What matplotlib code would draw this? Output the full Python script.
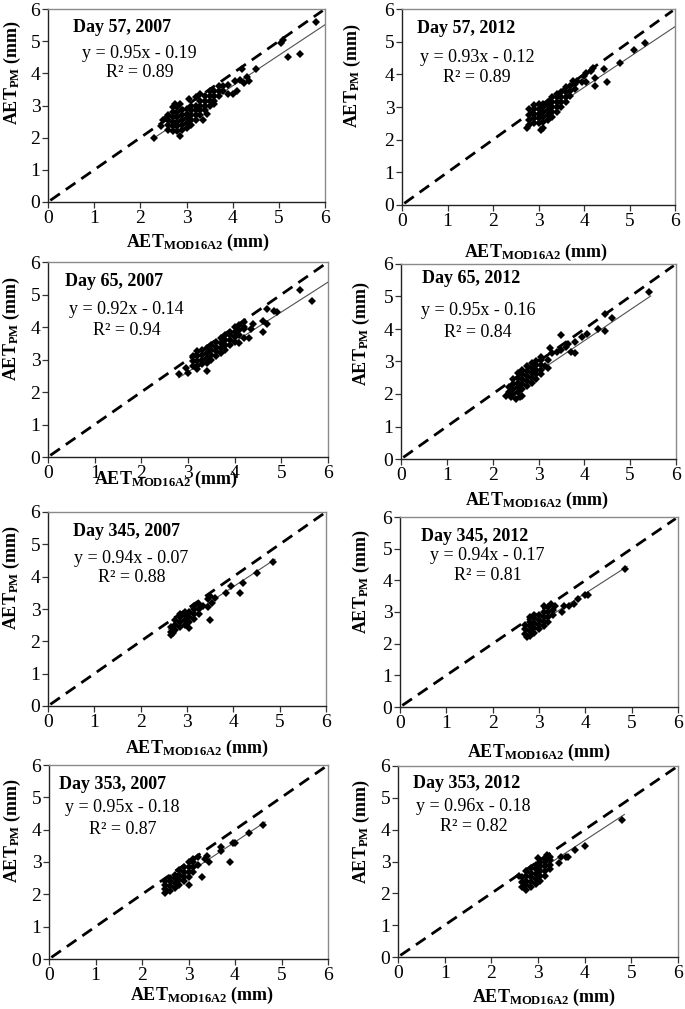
import matplotlib
matplotlib.use("Agg")
import matplotlib.pyplot as plt

plt.rcParams['font.family'] = ['Liberation Serif', 'DejaVu Serif']
plt.rcParams['mathtext.fontset'] = 'custom'
plt.rcParams['mathtext.rm'] = 'Liberation Serif'
plt.rcParams['mathtext.bf'] = 'Liberation Serif:bold'
plt.rcParams['mathtext.it'] = 'Liberation Serif:italic'

# ---------------- data ----------------
titles = ["Day 57, 2007", "Day 57, 2012", "Day 65, 2007", "Day 65, 2012",
          "Day 345, 2007", "Day 345, 2012", "Day 353, 2007", "Day 353, 2012"]
slopes = [0.95, 0.93, 0.92, 0.95, 0.94, 0.94, 0.95, 0.96]
intercepts = [-0.19, -0.12, -0.14, -0.16, -0.07, -0.17, -0.18, -0.18]
r2_values = [0.89, 0.89, 0.94, 0.84, 0.88, 0.81, 0.87, 0.82]
fit_x_start = [2.3, 2.75, 2.8, 2.3, 2.6, 2.65, 2.45, 2.6]
fit_x_end = [6.0, 6.0, 6.0, 5.45, 4.9, 4.9, 4.65, 4.85]
one_to_one = [0.05, 5.95]
axis_ticks = [0, 1, 2, 3, 4, 5, 6]

x_d57_2007 = [2.6, 2.6, 2.6, 2.6, 2.7, 2.7, 2.7, 2.7, 2.7, 2.8, 2.8, 2.8, 2.8, 2.8, 2.8,
              2.9, 2.9, 2.9, 2.9, 2.9, 3.0, 3.0, 3.0, 3.0, 3.0, 3.1, 3.1, 3.1, 3.1, 3.1,
              3.2, 3.2, 3.2, 3.2, 3.3, 3.3, 3.3, 3.3, 3.4, 3.4, 3.4, 3.4, 3.5, 3.5, 3.5, 3.5,
              3.6, 3.6, 3.6, 3.7, 3.7, 3.7, 3.8, 3.8,
              2.3, 2.45, 2.5, 2.55, 2.7, 2.75, 2.85, 2.85, 3.05, 3.2, 3.3, 3.35, 3.6, 3.9,
              4.0, 4.1, 4.05, 4.15, 4.25, 4.3, 4.35, 4.2, 4.5, 5.05, 5.1, 5.2, 5.45, 5.8,
              3.9, 3.45]
y_d57_2007 = [2.25, 2.4, 2.55, 2.7, 2.2, 2.35, 2.5, 2.65, 2.8, 2.2, 2.35, 2.5, 2.65, 2.8, 2.95,
              2.25, 2.4, 2.55, 2.7, 2.85, 2.3, 2.45, 2.6, 2.75, 2.9, 2.4, 2.55, 2.7, 2.85, 3.0,
              2.55, 2.7, 2.85, 3.0, 2.7, 2.85, 3.0, 3.15, 2.85, 3.0, 3.15, 3.3, 3.0, 3.15, 3.3, 3.45,
              3.15, 3.3, 3.45, 3.3, 3.45, 3.6, 3.45, 3.6,
              2.0, 2.35, 2.55, 2.6, 2.95, 3.05, 2.05, 3.05, 3.2, 3.25, 3.35, 2.55, 3.05, 3.35,
              3.35, 3.45, 3.75, 3.8, 3.7, 3.9, 3.75, 4.15, 4.15, 4.95, 5.05, 4.5, 4.6, 5.6,
              3.65, 2.75]

x_d57_2012 = [2.8, 2.8, 2.8, 2.9, 2.9, 2.9, 2.9, 3.0, 3.0, 3.0, 3.0, 3.0,
              3.1, 3.1, 3.1, 3.1, 3.1, 3.2, 3.2, 3.2, 3.2, 3.2, 3.3, 3.3, 3.3, 3.3, 3.3,
              3.4, 3.4, 3.4, 3.4, 3.4, 3.5, 3.5, 3.5, 3.5, 3.6, 3.6, 3.6, 3.6,
              3.7, 3.7, 3.7, 3.8, 3.8,
              2.75, 2.8, 3.05, 3.1, 2.9, 3.85, 3.95, 4.05, 4.05, 4.15, 4.2, 4.25, 4.25,
              4.45, 4.5, 4.8, 5.1, 5.35, 3.75, 4.0]
y_d57_2012 = [2.45, 2.6, 2.75, 2.5, 2.65, 2.8, 2.95, 2.5, 2.65, 2.8, 2.95, 3.1,
              2.55, 2.7, 2.85, 3.0, 3.1, 2.6, 2.75, 2.9, 3.05, 3.15, 2.7, 2.85, 3.0, 3.15, 3.3,
              2.85, 3.0, 3.15, 3.3, 3.4, 3.0, 3.15, 3.3, 3.45, 3.15, 3.3, 3.45, 3.6,
              3.35, 3.5, 3.65, 3.55, 3.7,
              2.35, 2.95, 2.3, 2.35, 3.05, 3.8, 3.75, 3.75, 4.05, 4.1, 4.2, 3.9, 3.65,
              4.15, 3.75, 4.35, 4.75, 4.95, 3.8, 3.95]

x_d65_2007 = [3.1, 3.1, 3.1, 3.2, 3.2, 3.2, 3.2, 3.3, 3.3, 3.3, 3.3, 3.4, 3.4, 3.4, 3.4,
              3.5, 3.5, 3.5, 3.5, 3.6, 3.6, 3.6, 3.6, 3.7, 3.7, 3.7, 3.7, 3.8, 3.8, 3.8, 3.8,
              3.9, 3.9, 3.9, 3.9, 4.0, 4.0, 4.0, 4.0, 4.1, 4.1, 4.1, 4.2, 4.2,
              2.8, 2.95, 3.0, 3.2, 3.4, 4.2, 4.3, 4.35, 4.4, 4.6, 4.6, 4.7, 4.7, 4.85,
              4.9, 5.4, 5.65, 4.1, 4.2]
y_d65_2007 = [2.8, 2.95, 3.1, 2.8, 2.95, 3.1, 3.25, 2.85, 3.0, 3.15, 3.3, 2.9, 3.05, 3.2, 3.35,
              3.0, 3.15, 3.3, 3.45, 3.1, 3.25, 3.4, 3.55, 3.2, 3.35, 3.5, 3.65, 3.3, 3.45, 3.6, 3.75,
              3.45, 3.6, 3.75, 3.85, 3.55, 3.7, 3.85, 4.0, 3.75, 3.9, 4.05, 3.95, 4.15,
              2.55, 2.75, 2.6, 2.7, 2.65, 3.65, 3.65, 3.95, 4.1, 3.85, 4.2, 4.1, 4.55, 4.5,
              4.45, 5.15, 4.8, 3.5, 4.0]

x_d65_2012 = [2.35, 2.35, 2.45, 2.45, 2.45, 2.45, 2.55, 2.55, 2.55, 2.55, 2.55,
              2.65, 2.65, 2.65, 2.65, 2.65, 2.75, 2.75, 2.75, 2.75, 2.75,
              2.85, 2.85, 2.85, 2.85, 2.85, 2.95, 2.95, 2.95, 2.95, 2.95, 3.05, 3.05, 3.05, 3.05,
              2.3, 2.4, 2.5, 2.6, 2.65, 3.05, 3.2, 3.25, 3.3, 3.4, 3.5, 3.5, 3.6, 3.65,
              3.7, 3.8, 3.8, 3.95, 4.05, 4.3, 4.45, 4.45, 4.6, 5.4, 3.15, 3.2]
y_d65_2012 = [2.05, 2.2, 2.0, 2.15, 2.3, 2.45, 2.05, 2.2, 2.35, 2.5, 2.65,
              2.15, 2.3, 2.45, 2.6, 2.75, 2.25, 2.4, 2.55, 2.7, 2.85,
              2.35, 2.5, 2.65, 2.8, 2.95, 2.45, 2.6, 2.75, 2.9, 3.0, 2.6, 2.75, 2.9, 3.05,
              1.95, 1.9, 1.85, 1.9, 1.95, 3.15, 3.05, 3.4, 3.25, 3.3, 3.8, 3.35, 3.45, 3.55,
              3.3, 3.25, 3.6, 3.75, 3.85, 4.0, 3.95, 4.45, 4.35, 5.15, 2.85, 2.8]

x_d345_2007 = [2.65, 2.65, 2.75, 2.75, 2.75, 2.85, 2.85, 2.85, 2.85, 2.95, 2.95, 2.95, 2.95,
               3.05, 3.05, 3.05, 3.15, 3.15, 3.15, 3.15, 3.25, 3.25, 3.25,
               3.05, 3.45, 3.45, 3.5, 3.5, 3.55, 3.6, 3.85, 3.95, 4.15, 4.2, 4.5, 4.85,
               3.35, 2.65, 2.7]
y_d345_2007 = [2.3, 2.45, 2.35, 2.5, 2.65, 2.45, 2.6, 2.75, 2.85, 2.5, 2.65, 2.8, 2.9,
               2.6, 2.75, 2.9, 2.7, 2.85, 3.0, 3.1, 2.85, 3.0, 3.15,
               2.4, 3.05, 3.3, 2.65, 3.4, 3.2, 3.35, 3.5, 3.7, 3.5, 3.8, 4.1, 4.45,
               3.1, 2.2, 2.25]

x_d345_2012 = [2.7, 2.7, 2.7, 2.8, 2.8, 2.8, 2.8, 2.8, 2.9, 2.9, 2.9, 2.9, 2.9,
               3.0, 3.0, 3.0, 3.0, 3.1, 3.1, 3.1, 3.1, 3.2, 3.2, 3.2, 3.2, 3.3, 3.3,
               3.1, 3.25, 3.35, 3.5, 3.55, 3.65, 3.75, 3.85, 4.05, 4.0, 4.85, 2.75]
y_d345_2012 = [2.3, 2.45, 2.6, 2.25, 2.4, 2.55, 2.7, 2.85, 2.35, 2.5, 2.65, 2.8, 2.9,
               2.45, 2.6, 2.75, 2.9, 2.55, 2.7, 2.85, 3.0, 2.7, 2.85, 3.0, 3.15, 2.9, 3.05,
               3.2, 3.25, 3.2, 3.0, 3.2, 3.2, 3.25, 3.4, 3.55, 3.55, 4.35, 2.2]

x_d353_2007 = [2.5, 2.5, 2.5, 2.6, 2.6, 2.6, 2.6, 2.7, 2.7, 2.7, 2.7, 2.8, 2.8, 2.8, 2.8,
               2.9, 2.9, 2.9, 2.9, 3.0, 3.0, 3.0, 3.0, 3.1, 3.1, 3.1, 3.1,
               2.5, 3.0, 3.2, 3.3, 3.35, 3.4, 3.45, 3.7, 3.7, 3.9, 3.95, 4.0, 4.3, 4.6, 3.2]
y_d353_2007 = [2.15, 2.3, 2.4, 2.1, 2.25, 2.4, 2.5, 2.2, 2.35, 2.5, 2.6, 2.3, 2.45, 2.6, 2.75,
               2.4, 2.55, 2.7, 2.85, 2.55, 2.7, 2.85, 3.0, 2.7, 2.85, 3.0, 3.1,
               2.05, 2.3, 3.15, 2.55, 3.1, 3.2, 3.0, 3.35, 3.45, 3.0, 3.6, 3.6, 3.9, 4.15, 2.9]

x_d353_2012 = [2.65, 2.65, 2.65, 2.75, 2.75, 2.75, 2.75, 2.75, 2.85, 2.85, 2.85, 2.85, 2.85,
               2.95, 2.95, 2.95, 2.95, 2.95, 3.05, 3.05, 3.05, 3.05, 3.05,
               3.15, 3.15, 3.15, 3.15, 3.15, 3.25, 3.25, 3.25,
               3.0, 3.2, 3.25, 3.45, 3.5, 3.6, 3.65, 3.8, 4.0, 4.8, 2.6]
y_d353_2012 = [2.2, 2.35, 2.5, 2.1, 2.25, 2.4, 2.55, 2.7, 2.2, 2.35, 2.5, 2.65, 2.8,
               2.3, 2.45, 2.6, 2.75, 2.9, 2.4, 2.55, 2.7, 2.85, 3.0,
               2.55, 2.7, 2.85, 3.0, 3.1, 2.75, 2.9, 3.05,
               3.1, 3.2, 3.15, 2.95, 3.15, 3.15, 3.15, 3.35, 3.5, 4.3, 2.55]

xs = [x_d57_2007, x_d57_2012, x_d65_2007, x_d65_2012,
      x_d345_2007, x_d345_2012, x_d353_2007, x_d353_2012]
ys = [y_d57_2007, y_d57_2012, y_d65_2007, y_d65_2012,
      y_d345_2007, y_d345_2012, y_d353_2007, y_d353_2012]

# ---------------- layout (pixels: left, right, top, bottom) ----------------
W, H = 685, 1009
boxes = [(48, 325, 9, 202), (402, 675, 9, 205),
         (48, 328, 262, 457), (401, 676, 264, 459),
         (48, 326, 512, 706), (400, 678, 517, 707),
         (49, 328, 765, 959), (398, 678, 766, 957)]
title_pos = [(0.09, 0.905), (0.055, 0.90), (0.06, 0.90), (0.076, 0.925),
             (0.09, 0.90), (0.075, 0.895), (0.036, 0.90), (0.054, 0.91)]
eq_pos = [(0.33, 0.77, 0.67), (0.275, 0.755, 0.65), (0.28, 0.755, 0.65), (0.28, 0.76, 0.65),
          (0.30, 0.76, 0.66), (0.315, 0.795, 0.69), (0.264, 0.78, 0.67), (0.27, 0.79, 0.685)]
xlab_pos = [(0.54, -0.21), (0.49, -0.24), (0.42, -0.115), (0.495, -0.21),
            (0.535, -0.22), (0.50, -0.24), (0.55, -0.19), (0.52, -0.21)]
ylab_pos = [(-0.13, 0.67), (-0.18, 0.66), (-0.13, 0.66), (-0.145, 0.645),
            (-0.13, 0.66), (-0.137, 0.66), (-0.13, 0.66), (-0.13, 0.655)]

fig = plt.figure(figsize=(W / 100, H / 100), dpi=100)

for i in range(8):
    l, r, t, b = boxes[i]
    ax = fig.add_axes([l / W, 1 - b / H, (r - l) / W, (b - t) / H])
    ax.set_xlim(0, 6)
    ax.set_ylim(0, 6)

    # 1:1 dashed line
    ax.plot(one_to_one, one_to_one, color='black', lw=2.0, ls=(0, (4.2, 2.6)),
            dash_capstyle='butt', zorder=2)
    # linear fit line
    fx = [fit_x_start[i], fit_x_end[i]]
    fy = [slopes[i] * v + intercepts[i] for v in fx]
    ax.plot(fx, fy, color='#505050', lw=0.8, zorder=3)
    # points
    ax.plot(xs[i], ys[i], ls='none', marker='D', ms=3.8, mew=0,
            color='black', zorder=4)

    ax.set_xticks(axis_ticks)
    ax.set_yticks(axis_ticks)
    ax.tick_params(axis='both', direction='out', length=4, width=0.9,
                   pad=1.5, labelsize=14, color='#333333')
    for side in ('top', 'right'):
        ax.spines[side].set_color('#8a8a8a')
        ax.spines[side].set_linewidth(1.0)
    for side in ('left', 'bottom'):
        ax.spines[side].set_color('#222222')
        ax.spines[side].set_linewidth(1.0)

    ax.text(title_pos[i][0], title_pos[i][1], titles[i], transform=ax.transAxes,
            fontsize=13, fontweight='bold', ha='left', va='center')
    sign = '-' if intercepts[i] < 0 else '+'
    eq = f"y = {slopes[i]:.2f}x {sign} {abs(intercepts[i]):.2f}"
    ax.text(eq_pos[i][0], eq_pos[i][1], eq, transform=ax.transAxes,
            fontsize=13, ha='center', va='center')
    ax.text(eq_pos[i][0], eq_pos[i][2], f"R² = {r2_values[i]:.2f}", transform=ax.transAxes,
            fontsize=13, ha='center', va='center')

    ax.set_xlabel(r'$\mathbf{AET_{MOD16A2}}$ (mm)', fontsize=13, fontweight='bold',
                  va='center')
    ax.set_ylabel(r'$\mathbf{AET_{PM}}$ (mm)', fontsize=13, fontweight='bold',
                  va='center')
    ax.xaxis.set_label_coords(*xlab_pos[i])
    ax.yaxis.set_label_coords(*ylab_pos[i])

fig.savefig('out.png', dpi=100)
